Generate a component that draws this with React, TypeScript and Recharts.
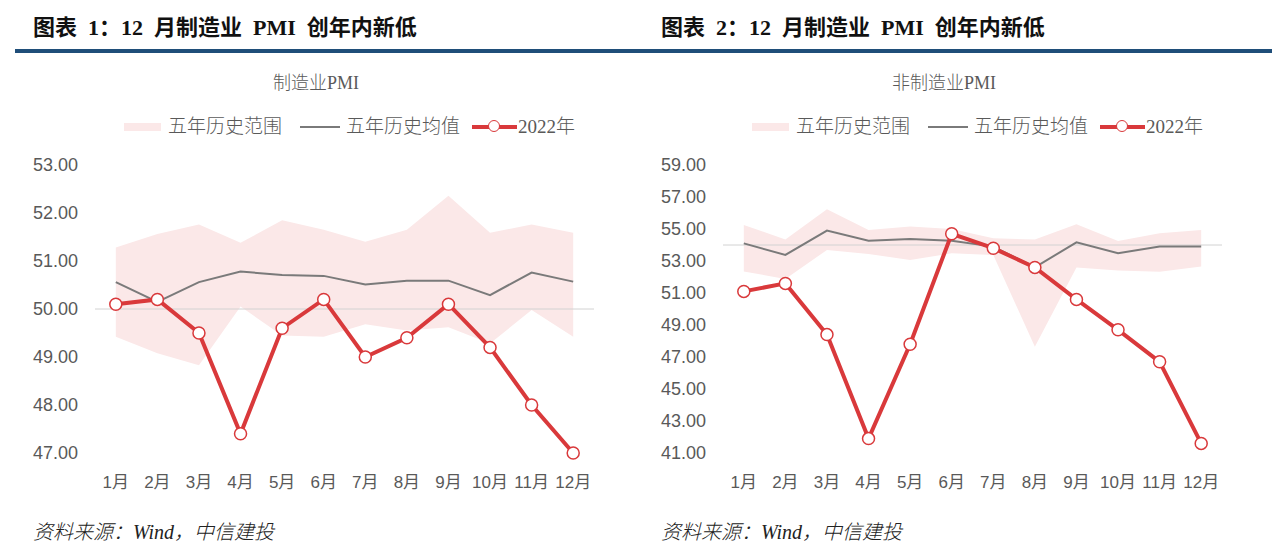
import React from 'react';
import { ComposedChart, Area, Line, XAxis, YAxis, ReferenceLine } from 'recharts';

const months = ['1月', '2月', '3月', '4月', '5月', '6月', '7月', '8月', '9月', '10月', '11月', '12月'];

// 制造业PMI
const mfgLow = [49.42, 49.08, 48.83, 50.05, 49.45, 49.42, 49.68, 49.55, 49.62, 49.28, 49.98, 49.42];
const mfgHigh = [51.28, 51.56, 51.76, 51.38, 51.85, 51.65, 51.4, 51.65, 52.36, 51.59, 51.76, 51.59];
const mfgAvg = [50.56, 50.15, 50.56, 50.78, 50.71, 50.69, 50.51, 50.59, 50.59, 50.29, 50.76, 50.57];
const mfg2022 = [50.1, 50.2, 49.5, 47.4, 49.6, 50.2, 49.0, 49.4, 50.1, 49.2, 48.0, 47.0];
const mfgTicks = [47, 48, 49, 50, 51, 52, 53];

// 非制造业PMI
const nonLow = [52.35, 51.88, 53.69, 53.44, 53.06, 53.48, 53.38, 47.64, 52.6, 52.4, 52.33, 52.65];
const nonHigh = [55.25, 54.35, 56.23, 54.94, 55.15, 55.0, 54.42, 54.35, 55.29, 54.25, 54.73, 54.94];
const nonAvg = [54.1, 53.38, 54.9, 54.27, 54.38, 54.27, 53.9, 52.6, 54.17, 53.48, 53.9, 53.9];
const non2022 = [51.1, 51.6, 48.4, 41.9, 47.8, 54.7, 53.8, 52.6, 50.6, 48.7, 46.7, 41.6];
const nonTicks = [41, 43, 45, 47, 49, 51, 53, 55, 57, 59];

const legendLabels = ['五年历史范围', '五年历史均值', '2022年'];

const SERIF_CJK = '"Liberation Serif", "Noto Sans CJK SC", serif';
const SANS = '"Liberation Sans", "Noto Sans CJK SC", sans-serif';

const RED = '#d9393b';
const GRAY = '#7a7a7a';
const PINK = '#fbe8e8';
const TEXT = '#595959';

function build(low: number[], high: number[], avg: number[], cur: number[]) {
  return months.map((m, i) => ({ m, range: [low[i], high[i]], avg: avg[i], cur: cur[i] }));
}

const mfgData = build(mfgLow, mfgHigh, mfgAvg, mfg2022);
const nonData = build(nonLow, nonHigh, nonAvg, non2022);

type PanelProps = {
  ox: number;
  header: string;
  title: string;
  data: any[];
  ticks: number[];
  domain: [number, number];
  refY: number;
};

function Legend({ ox }: { ox: number }) {
  const txt: React.CSSProperties = {
    position: 'absolute',
    top: 116,
    fontFamily: SERIF_CJK,
    fontSize: 19,
    lineHeight: '22px',
    color: TEXT,
    fontWeight: 300,
    whiteSpace: 'pre',
  };
  return (
    <>
      <div style={{ position: 'absolute', left: ox + 124, top: 123, width: 37, height: 8, background: PINK }} />
      <div style={{ ...txt, left: ox + 168 }}>{legendLabels[0]}</div>
      <div style={{ position: 'absolute', left: ox + 300, top: 126, width: 40, height: 2, background: GRAY }} />
      <div style={{ ...txt, left: ox + 346 }}>{legendLabels[1]}</div>
      <div style={{ position: 'absolute', left: ox + 472, top: 125, width: 45, height: 4, background: RED }} />
      <div
        style={{
          position: 'absolute',
          left: ox + 488,
          top: 120,
          width: 12,
          height: 12,
          borderRadius: '50%',
          background: '#fff',
          border: `1.5px solid ${RED}`,
          boxSizing: 'border-box',
        }}
      />
      <div style={{ ...txt, left: ox + 518 }}>{legendLabels[2]}</div>
    </>
  );
}

function Panel({ ox, header, title, data, ticks, domain, refY }: PanelProps) {
  return (
    <>
      <div
        style={{
          position: 'absolute',
          left: ox + 33,
          top: 15,
          fontSize: 22,
          fontWeight: 700,
          fontFamily: SERIF_CJK,
          color: '#111',
          whiteSpace: 'pre',
          lineHeight: '26px',
        }}
      >
        {header}
      </div>
      <div
        style={{
          position: 'absolute',
          left: ox + 116,
          width: 400,
          textAlign: 'center',
          top: 72,
          fontSize: 18,
          lineHeight: '22px',
          fontFamily: SERIF_CJK,
          fontWeight: 300,
          color: TEXT,
        }}
      >
        {title}
      </div>
      <Legend ox={ox} />
      <div style={{ position: 'absolute', left: ox, top: 0 }}>
        <ComposedChart width={640} height={544} data={data} margin={{ top: 165, right: 46, bottom: 51, left: 0 }}>
          <XAxis
            dataKey="m"
            interval={0}
            tickLine={false}
            axisLine={false}
            tickSize={0}
            tickMargin={23}
            height={40}
            padding={{ left: 20.8, right: 20.8 }}
            tick={{ fill: TEXT, fontSize: 17, fontFamily: SANS }}
          />
          <YAxis
            domain={domain}
            ticks={ticks}
            interval={0}
            width={95}
            tickLine={false}
            axisLine={false}
            tickSize={0}
            tickMargin={17}
            tickFormatter={(v: number) => v.toFixed(2)}
            tick={{ fill: TEXT, fontSize: 18, fontFamily: SANS }}
          />
          <Area
            dataKey="range"
            type="linear"
            stroke="none"
            fill={PINK}
            fillOpacity={1}
            isAnimationActive={false}
            activeDot={false}
          />
          <ReferenceLine y={refY} stroke="#d2d2d2" strokeWidth={1} />
          <Line dataKey="avg" type="linear" stroke={GRAY} strokeWidth={2} dot={false} activeDot={false} isAnimationActive={false} />
          <Line
            dataKey="cur"
            type="linear"
            stroke={RED}
            strokeWidth={4}
            dot={{ r: 6, fill: '#fff', stroke: RED, strokeWidth: 1.5 }}
            activeDot={false}
            isAnimationActive={false}
          />
        </ComposedChart>
      </div>
      <div
        style={{
          position: 'absolute',
          left: ox + 33,
          top: 519,
          fontSize: 20,
          lineHeight: '26px',
          fontStyle: 'italic',
          fontWeight: 300,
          fontFamily: SERIF_CJK,
          color: '#222',
          whiteSpace: 'pre',
        }}
      >
        资料来源：Wind，中信建投
      </div>
    </>
  );
}

export default function App() {
  return (
    <div style={{ position: 'absolute', left: 0, top: 0, width: 1280, height: 544, background: '#fff', overflow: 'hidden' }}>
      <div style={{ position: 'absolute', left: 15, top: 49, width: 1257, height: 4, background: '#1f4e79' }} />
      <Panel
        ox={0}
        header={'图表\u20021：12\u2002月制造业\u2002PMI\u2002创年内新低'}
        title="制造业PMI"
        data={mfgData}
        ticks={mfgTicks}
        domain={[47, 53]}
        refY={50}
      />
      <Panel
        ox={628}
        header={'图表\u20022：12\u2002月制造业\u2002PMI\u2002创年内新低'}
        title="非制造业PMI"
        data={nonData}
        ticks={nonTicks}
        domain={[41, 59]}
        refY={54}
      />
    </div>
  );
}
